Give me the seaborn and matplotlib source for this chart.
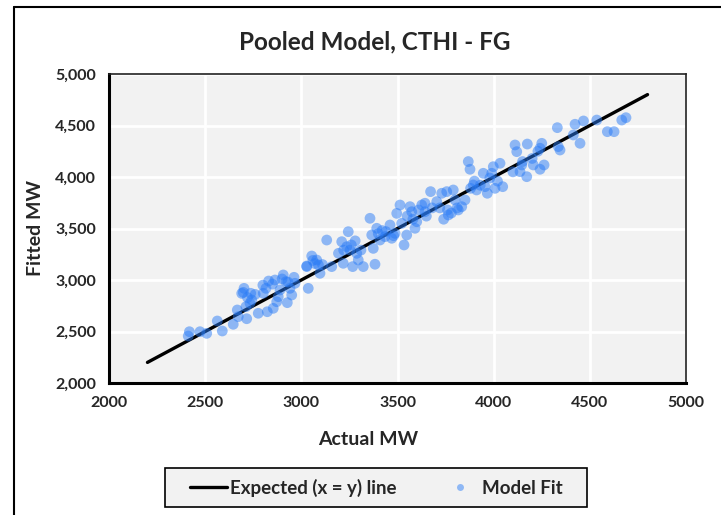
import matplotlib
matplotlib.use("Agg")
import matplotlib.pyplot as plt
from matplotlib.lines import Line2D
from matplotlib.patches import Rectangle
from matplotlib.ticker import FuncFormatter, MultipleLocator
import seaborn as sns
import pandas as pd

# ---- data ----
actual_mw = [2418, 2412, 2473, 2508, 2563, 2589, 2646, 2667, 2672, 2716, 2702, 2698, 2737, 2742,
             2733, 2712, 2776, 2802, 2816, 2823, 2854, 2863, 2872, 2880, 2889, 2906, 2920, 2927,
             2941, 2950, 2962, 2967, 3028, 3036, 3028, 3054, 3080, 3089, 3097, 3132, 3158, 3193,
             3210, 3218, 3236, 3244, 3253, 3267, 3288, 3296, 3322, 3357, 3366, 3374, 3383, 3392,
             3409, 3435, 3461, 3470, 3487, 3496, 3513, 3522, 3534, 3548, 3565, 3574, 3591, 3600,
             3626, 3643, 3643, 3672, 3704, 3730, 3756, 3764, 3790, 3799, 3816, 3834, 3851, 3868,
             3877, 3894, 3911, 3946, 3955, 3967, 3990, 3998, 4007, 4033, 4047, 4111, 4120, 4146,
             4137, 4172, 4175, 4206, 4241, 4250, 4262, 4331, 4414, 4423, 4449, 4467, 4536, 4591,
             4626, 4666, 4688, 4241, 4336, 4345,
             2690, 2720, 2760, 2800, 2830, 2850, 2900, 2930, 3060, 3070, 3110, 3220, 3260, 3280,
             3310, 3400, 3420, 3440, 3480, 3550, 3580, 3610, 3650, 3680, 3720, 3740, 3760, 3780,
             3810, 3880, 3900, 3930, 3980, 4020, 4100, 4150, 4200, 4230]
fitted_mw = [2498, 2456, 2498, 2482, 2602, 2505, 2570, 2709, 2644, 2624, 2919, 2880, 2871, 2806,
             2774, 2741, 2677, 2871, 2919, 2692, 2725, 3000, 2789, 2838, 2903, 3049, 2984, 2780,
             2919, 2854, 3026, 2968, 3130, 2919, 3136, 3233, 3194, 3146, 3065, 3388, 3130, 3259,
             3372, 3162, 3323, 3469, 3291, 3130, 3259, 3194, 3130, 3599, 3437, 3307, 3153, 3502,
             3388, 3421, 3534, 3405, 3453, 3647, 3728, 3550, 3340, 3437, 3712, 3663, 3502, 3566,
             3728, 3663, 3745, 3858, 3761, 3842, 3858, 3631, 3874, 3777, 3680, 3712, 3777, 4150,
             4075, 3922, 3874, 4036, 3906, 3842, 4036, 4100, 3890, 4133, 3906, 4311, 4246, 4117,
             4052, 4003, 4320, 4117, 4075, 4327, 4117, 4479, 4408, 4512, 4327, 4544, 4553, 4440,
             4440, 4553, 4576, 4279, 4295, 4262,
             2870, 2830, 2860, 2950, 2990, 2960, 3010, 2980, 3190, 3160, 3150, 3290, 3340, 3380,
             3290, 3450, 3480, 3470, 3430, 3620, 3590, 3680, 3620, 3700, 3700, 3590, 3680, 3650,
             3700, 3890, 3960, 3920, 3990, 3960, 4050, 4150, 4180, 4250]
line_x = [2200, 4800]
line_y = [2200, 4800]

title = "Pooled Model, CTHI - FG"
x_label = "Actual MW"
y_label = "Fitted MW"
line_label = "Expected (x = y) line"
scatter_label = "Model Fit"

sns.set_style("white")
plt.rcParams["font.family"] = ["Lato", "DejaVu Sans"]
plt.rcParams["font.weight"] = "bold"

fig = plt.figure(figsize=(7.21, 5.15), dpi=100)
ax = fig.add_axes([109 / 721, 1 - 383 / 515, (686 - 109) / 721, (383 - 74) / 515])
ax.set_facecolor("#f2f2f2")

df_pts = pd.DataFrame({"x": actual_mw, "y": fitted_mw})
df_line = pd.DataFrame({"x": line_x, "y": line_y})

sns.lineplot(data=df_line, x="x", y="y", ax=ax, color="black", linewidth=2.4,
             zorder=3, legend=False, solid_capstyle="round")
sns.scatterplot(data=df_pts, x="x", y="y", ax=ax, color="#2a7cf6", alpha=0.5, s=60,
                edgecolor="none", zorder=4, legend=False)

ax.set_xlim(2000, 5000)
ax.set_ylim(2000, 5000)
ax.xaxis.set_major_locator(MultipleLocator(500))
ax.yaxis.set_major_locator(MultipleLocator(500))
ax.yaxis.set_major_formatter(FuncFormatter(lambda v, p: f"{int(v):,}"))
ax.grid(True, color="white", linewidth=2)
ax.set_axisbelow(True)

for s in ["left", "bottom"]:
    ax.spines[s].set_color("black")
    ax.spines[s].set_linewidth(2.2)
for s in ["top", "right"]:
    ax.spines[s].set_color("#222222")
    ax.spines[s].set_linewidth(1.2)

ax.tick_params(axis="both", which="major", direction="inout", length=7, width=2,
               color="black", labelsize=11.5, pad=6)
for lab in ax.get_xticklabels() + ax.get_yticklabels():
    lab.set_fontweight("bold")

ax.set_xlabel(x_label, fontsize=14, fontweight="bold", labelpad=6)
ax.xaxis.set_label_coords((368 - 109) / 577, -0.155)
ax.set_ylabel(y_label, fontsize=14, fontweight="bold", labelpad=8)
fig.text(375 / 721, 1 - 42 / 515, title, ha="center", va="center",
         fontsize=17.5, fontweight="bold")

# legend box
fig.add_artist(Rectangle((165 / 721, 1 - 507 / 515), (587 - 165) / 721, 39 / 515,
                         transform=fig.transFigure, facecolor="#f2f2f2",
                         edgecolor="black", linewidth=1.2, zorder=1))
h = [Line2D([0], [0], color="black", linewidth=2.4),
     Line2D([0], [0], marker="o", linestyle="none", markersize=5,
            markerfacecolor="#8fb8f5", markeredgecolor="none")]
leg = fig.legend(h, [line_label, scatter_label], loc="center",
                 bbox_to_anchor=(376 / 721, 1 - 488 / 515), bbox_transform=fig.transFigure,
                 ncol=2, frameon=False,
                 prop={"weight": "bold", "size": 13.5}, handlelength=2.0,
                 handletextpad=0.15, columnspacing=2.4)
leg.set_zorder(5)

# figure border (left and top)
fig.add_artist(Line2D([14 / 721, 14 / 721], [0, 1 - 7 / 515], color="black",
                      linewidth=1.5, transform=fig.transFigure))
fig.add_artist(Line2D([14 / 721, 1], [1 - 7 / 515, 1 - 7 / 515], color="black",
                      linewidth=1.5, transform=fig.transFigure))

fig.savefig("out.png", dpi=100)
